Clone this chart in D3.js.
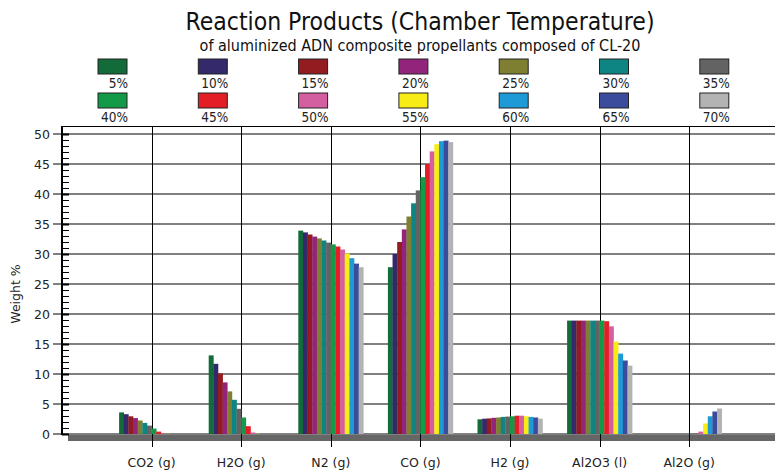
<!DOCTYPE html>
<html>
<head>
<meta charset="utf-8">
<script src="https://cdn.jsdelivr.net/npm/d3@7"></script>
<style>
  body { margin: 0; background: #fff; }
  svg { display: block; font-family: "DejaVu Sans", Verdana, sans-serif; }
  .cond { font-family: "DejaVu Sans Condensed", "DejaVu Sans", sans-serif; font-stretch: condensed; }
</style>
</head>
<body>
<div id="chart"></div>
<script>
// Categories and series
const categories = ["CO2 (g)", "H2O (g)", "N2 (g)", "CO (g)", "H2 (g)", "Al2O3 (l)", "Al2O (g)"];
const seriesLabels = ["5%", "10%", "15%", "20%", "25%", "30%", "35%",
                      "40%", "45%", "50%", "55%", "60%", "65%", "70%"];
const seriesColors = ["#136b3a", "#33296b", "#931c20", "#93247c", "#7f7f32", "#0e8483", "#636363",
                      "#129a48", "#e41e26", "#d45fa0", "#f8ec16", "#1e9bd7", "#3a4c9b", "#b3b3b3"];

// Weight % per product, one value per series (5% ... 70%)
const co2   = [3.6, 3.3, 2.95, 2.65, 2.25, 1.85, 1.4, 0.9, 0.4, 0.12, 0.03, 0, 0, 0];
const h2o   = [13.1, 11.7, 10.1, 8.6, 7.1, 5.7, 4.2, 2.75, 1.3, 0.25, 0.05, 0, 0, 0];
const n2    = [33.9, 33.6, 33.25, 32.9, 32.6, 32.25, 31.9, 31.6, 31.25, 30.75, 30.1, 29.3, 28.4, 27.8];
const co    = [27.8, 30.0, 32.0, 34.1, 36.25, 38.45, 40.6, 42.8, 45.0, 47.1, 48.3, 48.8, 48.9, 48.65];
const h2    = [2.45, 2.55, 2.6, 2.7, 2.75, 2.85, 2.9, 2.95, 3.05, 3.05, 2.95, 2.85, 2.75, 2.55];
const al2o3 = [18.9, 18.9, 18.9, 18.9, 18.9, 18.9, 18.9, 18.9, 18.8, 17.95, 15.4, 13.4, 12.25, 11.4];
const al2o  = [0, 0, 0, 0, 0, 0, 0, 0.05, 0.05, 0.4, 1.75, 2.95, 3.75, 4.25];
const yTicks = [0, 5, 10, 15, 20, 25, 30, 35, 40, 45, 50];

const productValues = [co2, h2o, n2, co, h2, al2o3, al2o];

const width = 775, height = 474;
const plotLeft = 62, plotTop = 126, plotRight = 775;

const svg = d3.select("#chart").append("svg")
  .attr("width", width)
  .attr("height", height);

const x = d3.scalePoint()
  .domain(categories)
  .range([151.6, 689.2]);

const xInner = d3.scaleBand()
  .domain(seriesLabels)
  .range([-32.5, 32.5]);

const y = d3.scaleLinear()
  .domain([0, 50])
  .range([434, 134]);

// Titles
svg.append("text")
  .attr("class", "cond")
  .attr("x", 420).attr("y", 30)
  .attr("text-anchor", "middle")
  .style("font-size", "24.5px")
  .style("fill", "#111")
  .text("Reaction Products (Chamber Temperature)");

svg.append("text")
  .attr("class", "cond")
  .attr("x", 420).attr("y", 51)
  .attr("text-anchor", "middle")
  .style("font-size", "16px")
  .style("fill", "#111")
  .text("of aluminized ADN composite propellants composed of CL-20");

// Legend: 7 columns x 2 rows
const legend = svg.append("g");
const legendItem = legend.selectAll("g")
  .data(seriesLabels)
  .enter().append("g")
  .attr("transform", (d, i) => `translate(${98 + (i % 7) * 100.3},${59 + Math.floor(i / 7) * 34})`);

legendItem.append("rect")
  .attr("width", 29).attr("height", 15)
  .style("fill", (d, i) => seriesColors[i])
  .style("stroke", "#222")
  .style("stroke-width", 1);

legendItem.append("text")
  .attr("class", "cond")
  .attr("x", 30).attr("y", 29)
  .attr("text-anchor", "end")
  .style("font-size", "13.5px")
  .style("fill", "#222")
  .text(d => d);

// Floor
svg.append("rect")
  .attr("x", 68).attr("y", y(0))
  .attr("width", plotRight - 68).attr("height", 7)
  .style("fill", "#666");

// Horizontal gridlines
svg.append("g").selectAll("line")
  .data(yTicks)
  .enter().append("line")
  .attr("x1", 53).attr("x2", plotRight)
  .attr("y1", d => y(d)).attr("y2", d => y(d))
  .style("stroke", "#808080")
  .style("stroke-width", 2);

// Top border
svg.append("line")
  .attr("x1", plotLeft).attr("x2", plotRight)
  .attr("y1", plotTop + 0.5).attr("y2", plotTop + 0.5)
  .style("stroke", "#000");

// Vertical category lines
svg.append("g").selectAll("line")
  .data(categories)
  .enter().append("line")
  .attr("x1", d => Math.round(x(d)) + 0.5).attr("x2", d => Math.round(x(d)) + 0.5)
  .attr("y1", plotTop).attr("y2", 447)
  .style("stroke", "#000")
  .style("stroke-width", 1);

// Bars
const group = svg.append("g").selectAll("g")
  .data(categories)
  .enter().append("g")
  .attr("transform", d => `translate(${x(d)},0)`);

group.selectAll("rect")
  .data((d, ci) => productValues[ci].map((v, si) => ({ v, si })))
  .enter().append("rect")
  .attr("x", d => xInner(seriesLabels[d.si]))
  .attr("y", d => y(d.v))
  .attr("width", xInner.bandwidth() + 0.3)
  .attr("height", d => y(0) - y(d.v))
  .style("fill", d => seriesColors[d.si]);

// Y axis: minor ticks, major ticks, axis line
const minor = d3.range(0, 51);
svg.append("g").selectAll("line")
  .data(minor)
  .enter().append("line")
  .attr("x1", plotLeft).attr("x2", 69)
  .attr("y1", d => Math.round(y(d)) + 0.5).attr("y2", d => Math.round(y(d)) + 0.5)
  .style("stroke", "#000")
  .style("stroke-width", d => d % 5 === 0 ? 2 : 1);

svg.append("line")
  .attr("x1", plotLeft).attr("x2", plotLeft)
  .attr("y1", plotTop).attr("y2", y(0) + 1)
  .style("stroke", "#000")
  .style("stroke-width", 2);

svg.append("g").selectAll("text")
  .data(yTicks)
  .enter().append("text")
  .attr("x", 50).attr("y", d => y(d) + 4.5)
  .attr("text-anchor", "end")
  .style("font-size", "12.5px")
  .style("fill", "#222")
  .text(d => d);

svg.append("text")
  .attr("transform", "translate(20,294) rotate(-90)")
  .attr("text-anchor", "middle")
  .style("font-size", "12.5px")
  .style("fill", "#222")
  .text("Weight %");

// X labels
svg.append("g").selectAll("text")
  .data(categories)
  .enter().append("text")
  .attr("x", d => x(d)).attr("y", 467)
  .attr("text-anchor", "middle")
  .style("font-size", "12.5px")
  .style("fill", "#222")
  .text(d => d);
</script>
</body>
</html>
